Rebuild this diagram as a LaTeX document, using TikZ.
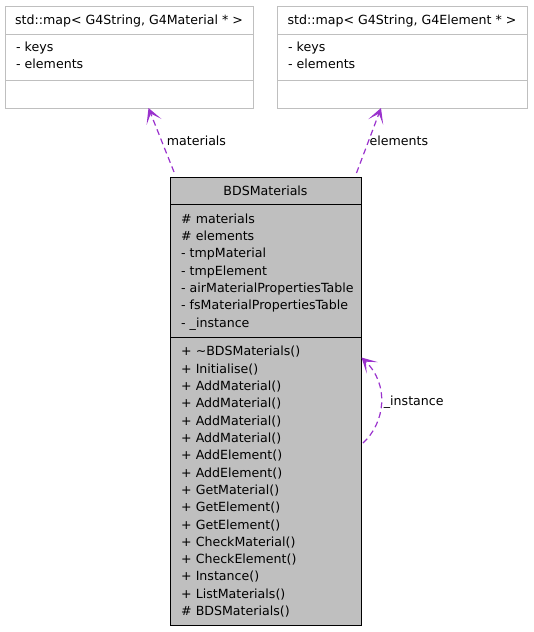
\documentclass[tikz,border=0pt]{standalone}
\usepackage{fontspec}
\setmainfont{DejaVu Sans}
\usetikzlibrary{arrows.meta}
\definecolor{edgepurple}{HTML}{9A32CD}
\definecolor{boxgray}{HTML}{BFBFBF}
\definecolor{framegray}{HTML}{BFBFBF}
\begin{document}
\begin{tikzpicture}[x=1pt,y=-1pt,
  lightpart/.style={draw=framegray, line width=1.2pt, fill=white, inner sep=0pt, anchor=north west},
  darkpart/.style={draw=black, line width=1pt, fill=boxgray, inner sep=0pt, anchor=north west},
  txt/.style={inner sep=0pt, font=\fontsize{12.6}{14}\selectfont, text=black},
  assoc/.style={draw=edgepurple, line width=1.2pt, dash pattern=on 6pt off 4pt,
    -{Stealth[length=15pt, width=16pt, inset=9pt, fill=edgepurple]}},
  elabel/.style={txt, anchor=base west}
]
\useasboundingbox (0,0) rectangle (533,632);

% --- std::map< G4String, G4Material * >
\node[lightpart, minimum width=248pt, minimum height=28pt] (matT) at (5,6) {};
\node[lightpart, minimum width=248pt, minimum height=46pt] (matA) at (5,34) {};
\node[lightpart, minimum width=248pt, minimum height=27.7pt] (matM) at (5,80) {};
\node[txt, anchor=base] (matTitle) at (129,24.3) {std::map< G4String, G4Material * >};
\node[txt, anchor=base west] (matK) at (16,51.5) {- keys};
\node[txt, anchor=base west] (matE) at (16,68.5) {- elements};

% --- std::map< G4String, G4Element * >
\node[lightpart, minimum width=250pt, minimum height=28pt] (eleT) at (277,6) {};
\node[lightpart, minimum width=250pt, minimum height=46pt] (eleA) at (277,34) {};
\node[lightpart, minimum width=250pt, minimum height=27.7pt] (eleM) at (277,80) {};
\node[txt, anchor=base] (eleTitle) at (402,24.3) {std::map< G4String, G4Element * >};
\node[txt, anchor=base west] (eleK) at (288,51.5) {- keys};
\node[txt, anchor=base west] (eleE) at (288,68.5) {- elements};

% --- BDSMaterials
\node[darkpart, minimum width=191pt, minimum height=27pt] (bdsT) at (170,177.3) {};
\node[darkpart, minimum width=191pt, minimum height=132.4pt] (bdsA) at (170,204.3) {};
\node[darkpart, minimum width=191pt, minimum height=288.3pt] (bdsM) at (170,336.7) {};
\node[txt, anchor=base] (bdsTitle) at (265.5,195.7) {BDSMaterials};

\foreach \t [count=\i from 0] in {\# materials, \# elements, - tmpMaterial, - tmpElement,
  - airMaterialPropertiesTable, - fsMaterialPropertiesTable, - \_instance}
  \node[txt, anchor=base west] (attr\i) at (181,223.3+17.33*\i) {\t};

\foreach \t [count=\i from 0] in {+ \textasciitilde BDSMaterials(), + Initialise(),
  + AddMaterial(), + AddMaterial(), + AddMaterial(), + AddMaterial(),
  + AddElement(), + AddElement(), + GetMaterial(), + GetElement(), + GetElement(),
  + CheckMaterial(), + CheckElement(), + Instance(), + ListMaterials(), \# BDSMaterials()}
  \node[txt, anchor=base west] (meth\i) at (181,355.7+17.33*\i) {\t};

% --- connectors
\coordinate (matTail) at (174,172);
\coordinate (matHead) at (148.5,108);
\coordinate (eleTail) at (356.5,173);
\coordinate (eleHead) at (381,108);
\coordinate (loopTail) at (363,443);
\coordinate (loopHead) at (361.5,357.5);

\draw[assoc] (matTail) -- (matHead);
\draw[assoc] (eleTail) -- (eleHead);
\draw[assoc] (loopTail) .. controls (385,423) and (390,385) .. (loopHead);

\node[elabel] (labMat) at (166.7,145.5) {materials};
\node[elabel] (labEle) at (369.4,145.5) {elements};
\node[elabel] (labInst) at (383.7,405) {\_instance};
\end{tikzpicture}
\end{document}
